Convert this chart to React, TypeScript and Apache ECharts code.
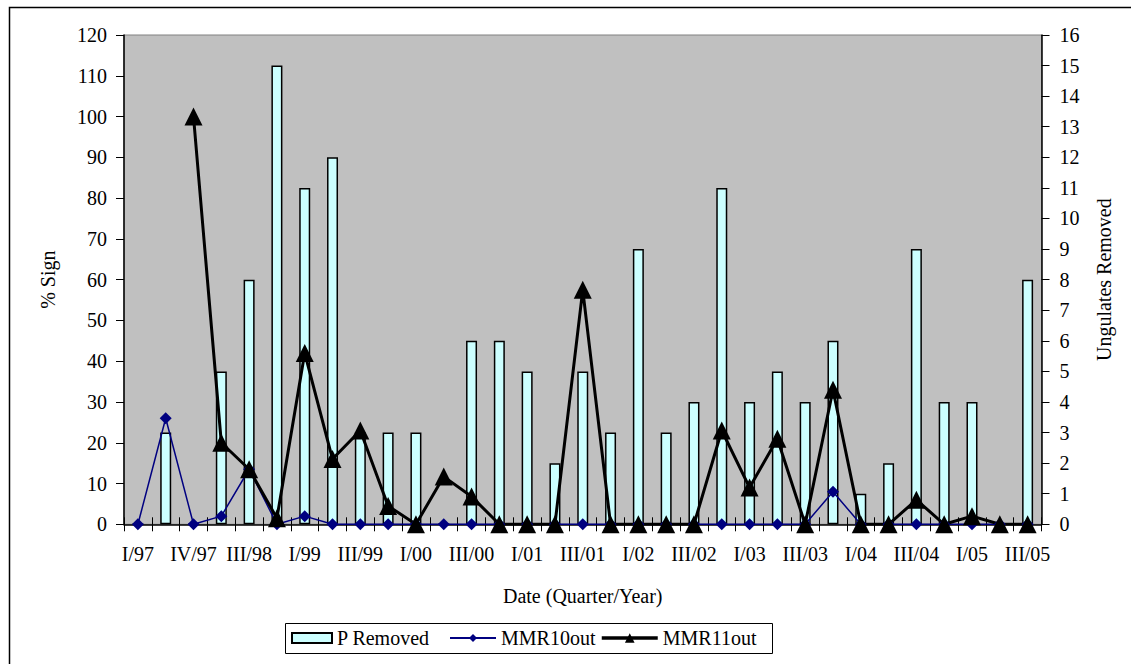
import React, { useEffect, useRef } from "react";
import * as echarts from "echarts";

// Quarter labels (every second one is shown on the axis)
const quarters = [
  "I/97", "III/97", "IV/97", "II/98", "III/98", "IV/98",
  "I/99", "II/99", "III/99", "IV/99",
  "I/00", "II/00", "III/00", "IV/00",
  "I/01", "II/01", "III/01", "IV/01",
  "I/02", "II/02", "III/02", "IV/02",
  "I/03", "II/03", "III/03", "IV/03",
  "I/04", "II/04", "III/04", "IV/04",
  "I/05", "II/05", "III/05",
];

// Ungulates removed per quarter (right axis)
const pRemoved = [
  0, 3, 0, 5, 8, 15, 11, 12, 3, 3, 3, 0, 6, 6, 5, 2, 5,
  3, 9, 3, 4, 11, 4, 5, 4, 6, 1, 2, 9, 4, 4, 0, 8,
];

// % sign, MMR10 outside (left axis)
const mmr10out = [
  0, 26, 0, 2, 13.5, 0, 2, 0, 0, 0, 0, 0, 0, 0, 0, 0, 0,
  0, 0, 0, 0, 0, 0, 0, 0, 8, 0, 0, 0, 0, 0, 0, 0,
];

// % sign, MMR11 outside (left axis)
const mmr11out = [
  null, null, 100, 20, 13.5, 1.5, 42, 16, 23, 4.5, 0, 11.7, 6.8, 0, 0, 0, 57.5,
  0, 0, 0, 0, 23, 9, 21, 0, 33, 0, 0, 6, 0, 2, 0, 0,
];

const seriesNames = ["P Removed", "MMR10out", "MMR11out"];

const leftTicks = { min: 0, max: 120, interval: 10 };
const rightTicks = { min: 0, max: 16, interval: 1 };

const FONT = "'Liberation Serif', 'Times New Roman', serif";

export default function App() {
  const ref = useRef<HTMLDivElement>(null);

  useEffect(() => {
    if (!ref.current) return;
    const chart = echarts.init(ref.current, undefined, { renderer: "svg" });

    const axisText = { fontFamily: FONT, fontSize: 20, color: "#000" };
    const legendText = { fontFamily: FONT, fontSize: 20, color: "#000" };

    // one legend per entry so each key can have its own sample length
    const legendItem = (
      name: string,
      left: number,
      itemWidth: number,
      itemHeight: number,
      extra: Record<string, unknown> = {}
    ) => ({
      left,
      top: 628,
      padding: 0,
      itemWidth,
      itemHeight,
      textStyle: legendText,
      data: [{ name, ...extra }],
    });

    chart.setOption({
      animation: false,
      backgroundColor: "#fff",
      textStyle: { fontFamily: FONT },
      grid: {
        left: 124,
        right: 89.5,
        top: 35,
        bottom: 139.7,
        show: true,
        backgroundColor: "#C0C0C0",
        borderColor: "#808080",
        borderWidth: 1,
      },
      graphic: [
        {
          type: "rect",
          shape: { x: 9.5, y: 7.5, width: 1140, height: 680 },
          style: { fill: "none", stroke: "#000", lineWidth: 1.5 },
          silent: true,
        },
        {
          // legend frame
          type: "rect",
          shape: { x: 285.5, y: 623.5, width: 487, height: 30 },
          style: { fill: "#fff", stroke: "#000", lineWidth: 1 },
          silent: true,
          z: -1,
        },
      ],
      legend: [
        legendItem(seriesNames[0], 291, 40, 10, { icon: "rect" }),
        legendItem(seriesNames[1], 449, 46, 10, {
          lineStyle: { color: "#000080", width: 2 },
        }),
        legendItem(seriesNames[2], 600, 56, 12, {
          lineStyle: { color: "#000", width: 3.5 },
        }),
      ],
      xAxis: [
        {
          type: "category",
          data: quarters,
          boundaryGap: true,
          position: "bottom",
          name: "Date (Quarter/Year)",
          nameLocation: "middle",
          nameGap: 62,
          nameTextStyle: axisText,
          axisLine: { show: true, lineStyle: { color: "#000", width: 1.5 } },
          axisTick: { show: true, interval: 0, length: 7, lineStyle: { color: "#000" } },
          axisLabel: { ...axisText, interval: 1, margin: 20 },
          splitLine: { show: false },
        },
        {
          // inner half of the crossing category ticks
          type: "category",
          data: quarters,
          boundaryGap: true,
          position: "bottom",
          offset: 0,
          axisLine: { show: false },
          axisTick: { show: true, inside: true, interval: 0, length: 7, lineStyle: { color: "#000" } },
          axisLabel: { show: false },
          splitLine: { show: false },
        },
      ],
      yAxis: [
        {
          type: "value",
          ...leftTicks,
          position: "left",
          name: "% Sign",
          nameLocation: "middle",
          nameRotate: 90,
          nameGap: 66,
          nameTextStyle: axisText,
          axisLine: { show: true, lineStyle: { color: "#000", width: 1.5 } },
          axisTick: { show: true, length: 8, lineStyle: { color: "#000" } },
          axisLabel: { ...axisText, margin: 17 },
          splitLine: { show: false },
        },
        {
          type: "value",
          ...rightTicks,
          position: "right",
          name: "Ungulates Removed",
          nameLocation: "middle",
          nameRotate: 90,
          nameGap: 52,
          nameTextStyle: axisText,
          axisLine: { show: true, lineStyle: { color: "#000", width: 1.5 } },
          axisTick: { show: true, length: 8, lineStyle: { color: "#000" } },
          axisLabel: { ...axisText, margin: 18 },
          splitLine: { show: false },
        },
      ],
      series: [
        {
          name: seriesNames[0],
          type: "bar",
          xAxisIndex: 0,
          yAxisIndex: 1,
          data: pRemoved,
          barWidth: 11,
          itemStyle: { color: "#CCFFFF", borderColor: "#000", borderWidth: 1.5 },
        },
        {
          name: seriesNames[1],
          type: "line",
          xAxisIndex: 0,
          yAxisIndex: 0,
          data: mmr10out,
          symbol: "diamond",
          symbolSize: 12,
          lineStyle: { color: "#000080", width: 1.5 },
          itemStyle: { color: "#000080" },
        },
        {
          name: seriesNames[2],
          type: "line",
          xAxisIndex: 0,
          yAxisIndex: 0,
          data: mmr11out,
          symbol: "triangle",
          symbolSize: 18,
          lineStyle: { color: "#000", width: 3 },
          itemStyle: { color: "#000" },
        },
      ],
    });

    return () => chart.dispose();
  }, []);

  return (
    <div
      ref={ref}
      style={{ position: "absolute", left: 0, top: 0, width: 1131, height: 664 }}
    />
  );
}
